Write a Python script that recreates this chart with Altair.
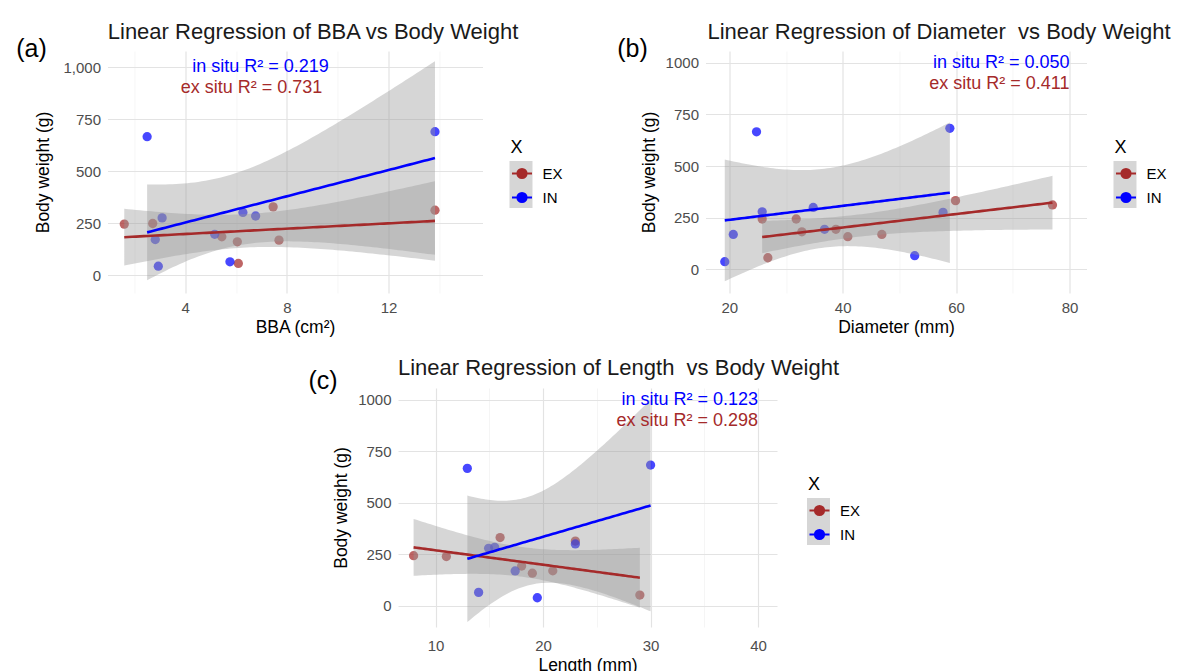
import altair as alt
import numpy as np
import pandas as pd

GROUPS = ["EX", "IN"]
COLORS = ["#A52A2A", "#0000FF"]

# ---- (a) BBA (cm²) vs body weight ----
a_ex_x = [1.6, 2.72, 5.44, 6.05, 6.09, 7.46, 7.69, 13.83]
a_ex_y = [245, 248, 184, 160, 56, 328, 168, 312]
a_in_x = [2.5, 3.09, 2.82, 2.94, 5.16, 5.76, 6.27, 6.77, 13.83]
a_in_y = [665, 275, 171, 43, 196, 64, 301, 284, 689]

# ---- (b) Diameter (mm) vs body weight ----
b_ex_x = [25.8, 26.8, 31.8, 32.8, 38.8, 40.9, 46.9, 59.9, 77.0]
b_ex_y = [243, 55, 243, 181, 193, 157, 168, 332, 311]
b_in_x = [24.8, 25.8, 20.7, 19.2, 34.8, 36.8, 52.7, 57.7, 58.9]
b_in_y = [666, 278, 168, 36, 299, 193, 65, 275, 683]

# ---- (c) Length (mm) vs body weight ----
c_ex_x = [7.95, 11.0, 16.0, 18.0, 19.0, 20.9, 23.0, 29.0]
c_ex_y = [244, 240, 332, 194, 159, 171, 315, 53]
c_in_x = [12.95, 14.0, 14.93, 15.5, 17.4, 19.46, 23.0, 30.0]
c_in_y = [668, 66, 280, 285, 170, 40, 301, 684]

# annotations (in situ first, then ex situ)
ann_text = {
    "a": ["in situ R² = 0.219", "ex situ R² = 0.731"],
    "b": ["in situ R² = 0.050", "ex situ R² = 0.411"],
    "c": ["in situ R² = 0.123", "ex situ R² = 0.298"],
}
ann_x = {"a": [6.96, 6.61], "b": [80, 80], "c": [40, 40]}
ann_y = [1000, 900]

T975 = {5: 2.5706, 6: 2.4469, 7: 2.3646, 8: 2.3060}


def fit(xs, ys, n_grid=80):
    x = np.array(xs, float)
    y = np.array(ys, float)
    n = len(x)
    b, a = np.polyfit(x, y, 1)
    resid = y - (a + b * x)
    s = np.sqrt((resid ** 2).sum() / (n - 2))
    mx = x.mean()
    sxx = ((x - mx) ** 2).sum()
    g = np.linspace(x.min(), x.max(), n_grid)
    yhat = a + b * g
    se = s * np.sqrt(1.0 / n + (g - mx) ** 2 / sxx)
    t = T975[n - 2]
    return g, yhat, yhat - t * se, yhat + t * se


MAJ = "#e3e3e3"
MIN = "#f1f1f1"
SYM = "M-1,0L1,0M-0.45,0A0.45,0.45,0,1,1,0.45,0A0.45,0.45,0,1,1,-0.45,0Z"
GCOLOR = alt.condition("datum.g === 'EX'", alt.value(COLORS[0]), alt.value(COLORS[1]))


def grid_axis(values, major, fmt, title, labelPadding=7, **kw):
    test = f"datum.value % {major} === 0"
    return alt.Axis(
        values=values, format=fmt, title=title,
        labelExpr=f"{test} ? datum.label : ''",
        grid=True,
        gridColor={"condition": {"test": test, "value": MAJ}, "value": MIN},
        gridWidth={"condition": {"test": test, "value": 1.2}, "value": 0.7},
        ticks=False, tickSize=0, domain=False,
        labelFontSize=15, labelColor="#4d4d4d", labelOverlap=False,
        labelFlush=False, labelPadding=labelPadding,
        titleFontSize=17.5, titleFontWeight="normal", titleColor="black",
        **kw,
    )


def panel(ex_x, ex_y, in_x, in_y, key, spec):
    pts = pd.DataFrame({
        "x": ex_x + in_x, "y": ex_y + in_y,
        "g": ["EX"] * len(ex_x) + ["IN"] * len(in_x),
    })
    rows = []
    for gname, xs, ys in (("EX", ex_x, ex_y), ("IN", in_x, in_y)):
        gx, yh, lo, hi = fit(xs, ys)
        rows.append(pd.DataFrame({"x": gx, "fit": yh, "lo": lo, "hi": hi, "g": gname}))
    sm = pd.concat(rows, ignore_index=True)
    ann = pd.DataFrame({"x": ann_x[key], "y": ann_y, "t": ann_text[key], "g": ["IN", "EX"]})
    lab = pd.DataFrame({"t": [spec["label"]]})
    legdf = pd.DataFrame({"g": pd.Series([], dtype=str)})
    one = pd.DataFrame({"k": [0]})

    xs = alt.Scale(domain=spec["xdom"], nice=False, zero=False)
    ys = alt.Scale(domain=spec["ydom"], nice=False, zero=False)
    cs = alt.Scale(domain=GROUPS, range=COLORS)
    xax = grid_axis(spec["xvals"], spec["xmaj"], "d", spec["xtitle"],
                    labelPadding=spec["xlp"], titlePadding=3)
    yax = grid_axis(spec["yvals"], 250, spec["yfmt"], "Body weight (g)", titlePadding=spec["ytp"])

    lx, ly = spec["lx"], spec["ly"]
    legend = alt.Legend(
        orient="none", legendX=lx, legendY=ly,
        title="X", titleFontSize=18, titleFontWeight="normal", titleColor="black",
        labelFontSize=15, labelColor="black", symbolType=SYM, symbolSize=400,
        symbolStrokeWidth=2.2, rowPadding=3, labelOffset=9, titlePadding=5, padding=0,
    )

    # grey key background behind the legend symbols (decoration)
    keybg = alt.Chart(one).mark_rect(color="#d6d6d6").encode(
        x=alt.value(lx - 1), x2=alt.value(lx + 22),
        y=alt.value(ly + 22), y2=alt.value(ly + 69),
    )
    # invisible spacer extending the panel's bounds to the right
    spacer = alt.Chart(one).mark_rect(opacity=0).encode(
        x=alt.value(spec["sp"] - 2), x2=alt.value(spec["sp"]),
        y=alt.value(0), y2=alt.value(1),
    )
    leg = alt.Chart(legdf).mark_point(
        shape=SYM, filled=True, size=400, strokeWidth=2.2, opacity=1
    ).encode(
        x=alt.value(0), y=alt.value(0),
        color=alt.Color("g:N", scale=cs, legend=legend),
        stroke=alt.Stroke("g:N", scale=cs, legend=legend),
    )
    points = alt.Chart(pts).mark_circle(size=86, opacity=0.72).encode(
        x=alt.X("x:Q", scale=xs, axis=xax),
        y=alt.Y("y:Q", scale=ys, axis=yax),
        color=GCOLOR,
    )
    band = alt.Chart(sm).mark_area(color="#999999", opacity=0.4).encode(
        x="x:Q", y="lo:Q", y2="hi:Q", detail="g:N",
    )
    line = alt.Chart(sm).mark_line(strokeWidth=2.6).encode(
        x="x:Q", y="fit:Q", detail="g:N", color=GCOLOR,
    )
    text = alt.Chart(ann).mark_text(
        fontSize=18, align=spec["align"], baseline="middle", font="Liberation Sans"
    ).encode(x="x:Q", y="y:Q", text="t:N", color=GCOLOR)
    label = alt.Chart(lab).mark_text(
        fontSize=25, align="center", baseline="middle", color="black", font="Liberation Sans"
    ).encode(x=alt.value(spec["labx"]), y=alt.value(spec["laby"]), text="t:N")

    layers = [points, band, line, text, label, keybg, leg]
    if spec["sp"]:
        layers.append(spacer)
    return alt.layer(*layers).properties(
        width=spec["w"], height=spec["h"],
        title=alt.TitleParams(
            spec["title"], fontSize=22, fontWeight="normal", color="#1a1a1a",
            anchor="middle", frame="group", dx=spec["tdx"], offset=spec["toff"],
        ),
    )


pa = panel(a_ex_x, a_ex_y, a_in_x, a_in_y, "a", dict(
    label="(a)", title="Linear Regression of BBA vs Body Weight", xtitle="BBA (cm²)",
    xdom=[0.94, 15.7], ydom=[-86, 1077], xvals=[2, 4, 6, 8, 10, 12, 14], xmaj=4,
    yvals=[0, 125, 250, 375, 500, 625, 750, 875, 1000], yfmt=",d", ytp=10, xlp=7,
    w=375, h=242, lx=403, ly=88, labx=-76, laby=-2, tdx=18, toff=-7, sp=0, align="center"))

pb = panel(b_ex_x, b_ex_y, b_in_x, b_in_y, "b", dict(
    label="(b)", title="Linear Regression of Diameter\u00a0 vs Body Weight", xtitle="Diameter (mm)",
    xdom=[15.8, 83.0], ydom=[-116, 1058], xvals=[20, 30, 40, 50, 60, 70, 80], xmaj=20,
    yvals=[0, 125, 250, 375, 500, 625, 750, 875, 1000], yfmt="d", ytp=7, xlp=7,
    w=381, h=242, lx=409, ly=88, labx=-73, laby=-2, tdx=43, toff=-7, sp=0, align="right"))

pc = panel(c_ex_x, c_ex_y, c_in_x, c_in_y, "c", dict(
    label="(c)", title="Linear Regression of Length\u00a0 vs Body Weight", xtitle="Length (mm)",
    xdom=[6.5, 41.76], ydom=[-102, 1058], xvals=[10, 15, 20, 25, 30, 35, 40], xmaj=10,
    yvals=[0, 125, 250, 375, 500, 625, 750, 875, 1000], yfmt="d", ytp=7, xlp=11,
    w=379, h=239, lx=410, ly=88, labx=-75, laby=-7, tdx=31, toff=-11, sp=482, align="right"))

top = alt.hconcat(pa, pb, spacing=53).resolve_scale(
    color="independent", stroke="independent").resolve_legend(color="independent", stroke="independent")
chart = alt.vconcat(top, pc, spacing=21, center=True).resolve_scale(
    color="independent", stroke="independent").resolve_legend(
    color="independent", stroke="independent").properties(
    padding={"left": 8, "top": 13, "right": 0, "bottom": 0}
).configure(font="Liberation Sans").configure_view(stroke=None)

chart.save("out.html", embed_options={"renderer": "svg", "actions": False})
